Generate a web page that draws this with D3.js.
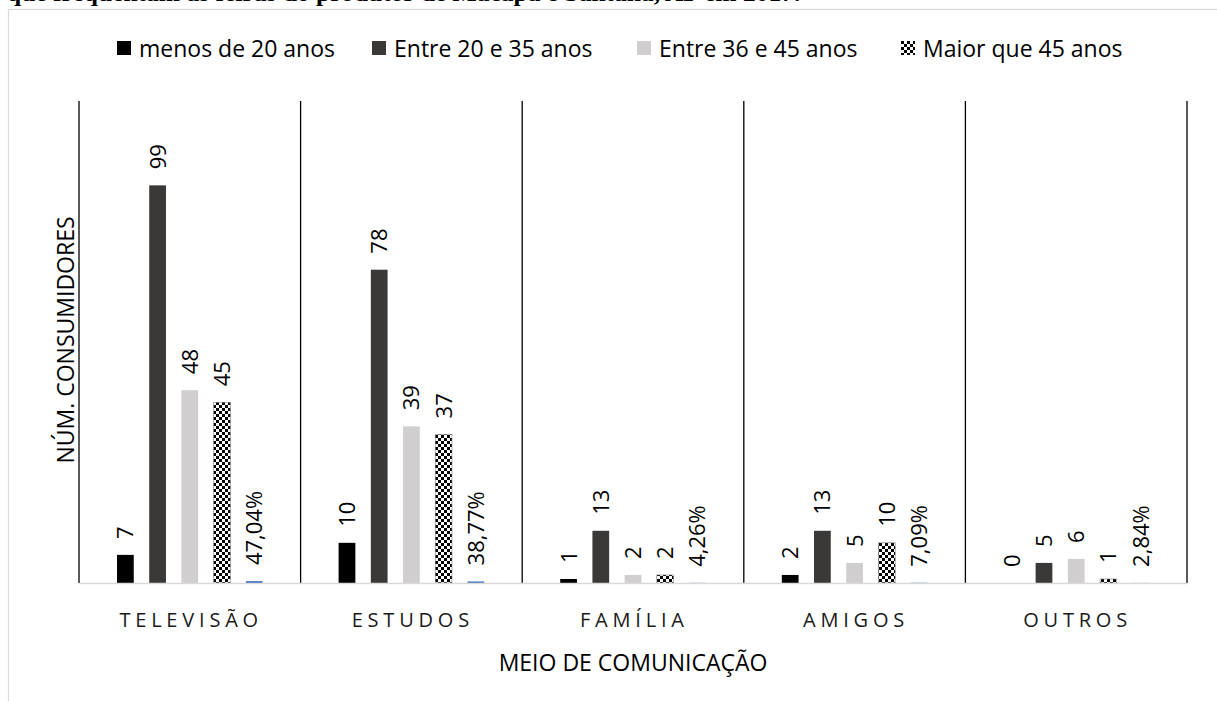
<!DOCTYPE html>
<html>
<head>
<meta charset="utf-8">
<script src="https://cdn.jsdelivr.net/npm/d3@7"></script>
<style>
  html, body { margin: 0; padding: 0; background: #fff; }
  svg { display: block; }
  text { font-family: "Open Sans", "Noto Sans", sans-serif; fill: #000; }
</style>
</head>
<body>
<svg id="chart" width="1217" height="701"></svg>
<script>
// Media through which consumers heard of the fairs, by age group
const categories = ["TELEVISÃO", "ESTUDOS", "FAMÍLIA", "AMIGOS", "OUTROS"];
const seriesNames = ["menos de 20 anos", "Entre 20 e 35 anos", "Entre 36 e 45 anos", "Maior que 45 anos", "Total (%)"];
const menos20 = [7, 10, 1, 2, 0];
const entre20e35 = [99, 78, 13, 13, 5];
const entre36e45 = [48, 39, 2, 5, 6];
const maior45 = [45, 37, 2, 10, 1];
const percentual = [47.04, 38.77, 4.26, 7.09, 2.84];
const legendNames = seriesNames.slice(0, 4);
const yAxisTitle = "NÚM. CONSUMIDORES";
const xAxisTitle = "MEIO DE COMUNICAÇÃO";
const captionLine = "que frequentam as feiras do produtor de Macapá e Santana, AP em 2017.";

const svg = d3.select("#chart");

// pattern for the "Maior que 45 anos" series
const defs = svg.append("defs");
const pat = defs.append("pattern")
  .attr("id", "checker").attr("patternUnits", "userSpaceOnUse")
  .attr("width", 6).attr("height", 6);
pat.append("rect").attr("width", 6).attr("height", 6).attr("fill", "#fff");
pat.append("rect").attr("width", 3).attr("height", 3).attr("fill", "#000");
pat.append("rect").attr("x", 3).attr("y", 3).attr("width", 3).attr("height", 3).attr("fill", "#000");

const fills = ["#000000", "#3b3838", "#d0cece", "url(#checker)", "#4472c4"];

// caption line above the chart frame
svg.append("text")
  .attr("x", 7).attr("y", 1)
  .style("font-family", "'Liberation Serif', 'DejaVu Serif', serif")
  .style("font-weight", "bold").style("font-size", "25.5px")
  .text(captionLine);

// chart frame
svg.append("rect")
  .attr("x", 8.5).attr("y", 9.5).attr("width", 1240).attr("height", 720)
  .attr("fill", "none").attr("stroke", "#d9d9d9").attr("stroke-width", 1.2);

const plot = { left: 79, right: 1187, top: 101, bottom: 583 };

const x0 = d3.scaleBand().domain(categories).range([plot.left, plot.right]).paddingInner(0).paddingOuter(0);
const x1 = d3.scaleBand().domain(d3.range(5)).range([0, x0.bandwidth()])
  .paddingInner(0.48).paddingOuter(1.18);
const y = d3.scaleLinear().domain([0, 120]).range([plot.bottom, plot.top]);

// rows: one entry per category per series
const seriesValues = [menos20, entre20e35, entre36e45, maior45, percentual.map(v => v / 100)];
const seriesLabels = [
  menos20.map(String), entre20e35.map(String), entre36e45.map(String), maior45.map(String),
  percentual.map(v => v.toFixed(2).replace(".", ",") + "%")
];
const rows = [];
categories.forEach((c, ci) => {
  seriesValues.forEach((vals, si) => {
    rows.push({ cat: c, s: si, v: vals[ci], label: seriesLabels[si][ci] });
  });
});

// vertical separators
const bounds = categories.map(c => x0(c)).concat([plot.right]);
svg.append("g").selectAll("line").data(bounds).join("line")
  .attr("x1", d => d).attr("x2", d => d)
  .attr("y1", plot.top).attr("y2", plot.bottom)
  .attr("stroke", "#000").attr("stroke-width", 1.3);

// bars
svg.append("g").selectAll("rect").data(rows).join("rect")
  .attr("x", d => x0(d.cat) + x1(d.s))
  .attr("width", x1.bandwidth())
  .attr("y", d => y(d.v))
  .attr("height", d => y(0) - y(d.v))
  .attr("fill", d => fills[d.s])
  .attr("stroke", d => d.s === 3 ? "#7f7f7f" : "none")
  .attr("stroke-width", 0.6);

// baseline
svg.append("line")
  .attr("x1", plot.left).attr("x2", plot.right)
  .attr("y1", plot.bottom + 0.5).attr("y2", plot.bottom + 0.5)
  .attr("stroke", "#d9d9d9").attr("stroke-width", 1.3);

// value labels, rotated
svg.append("g").selectAll("text").data(rows).join("text")
  .attr("transform", d => {
    const cx = x0(d.cat) + x1(d.s) + x1.bandwidth() / 2;
    const ty = y(d.v) - 16;
    return `translate(${cx},${ty}) rotate(-90)`;
  })
  .attr("dy", "0.36em")
  .attr("text-anchor", "start")
  .style("font-size", "22px")
  .style("fill", "#000")
  .text(d => d.label);

// category axis labels
svg.append("g").selectAll("text").data(categories).join("text")
  .attr("x", d => x0(d) + x0.bandwidth() / 2 + 1.4)
  .attr("y", 627)
  .attr("text-anchor", "middle")
  .style("font-size", "20px")
  .style("letter-spacing", "4.8px")
  .style("fill", "#1a1a1a")
  .text(d => d);

// axis titles
svg.append("text")
  .attr("x", 633).attr("y", 671)
  .attr("text-anchor", "middle")
  .style("font-size", "23px")
  .text(xAxisTitle);

svg.append("text")
  .attr("transform", `translate(74,340) rotate(-90)`)
  .attr("text-anchor", "middle")
  .style("font-size", "23px")
  .text(yAxisTitle);

// legend
const legendX = [117, 372, 637, 901];
const lg = svg.append("g").selectAll("g").data(legendNames).join("g")
  .attr("transform", (d, i) => `translate(${legendX[i]},41)`);
lg.append("rect").attr("width", 14).attr("height", 14)
  .attr("fill", (d, i) => fills[i]);
lg.append("text").attr("x", 22).attr("y", 15.5)
  .style("font-size", "23px")
  .text(d => d);
</script>
</body>
</html>
